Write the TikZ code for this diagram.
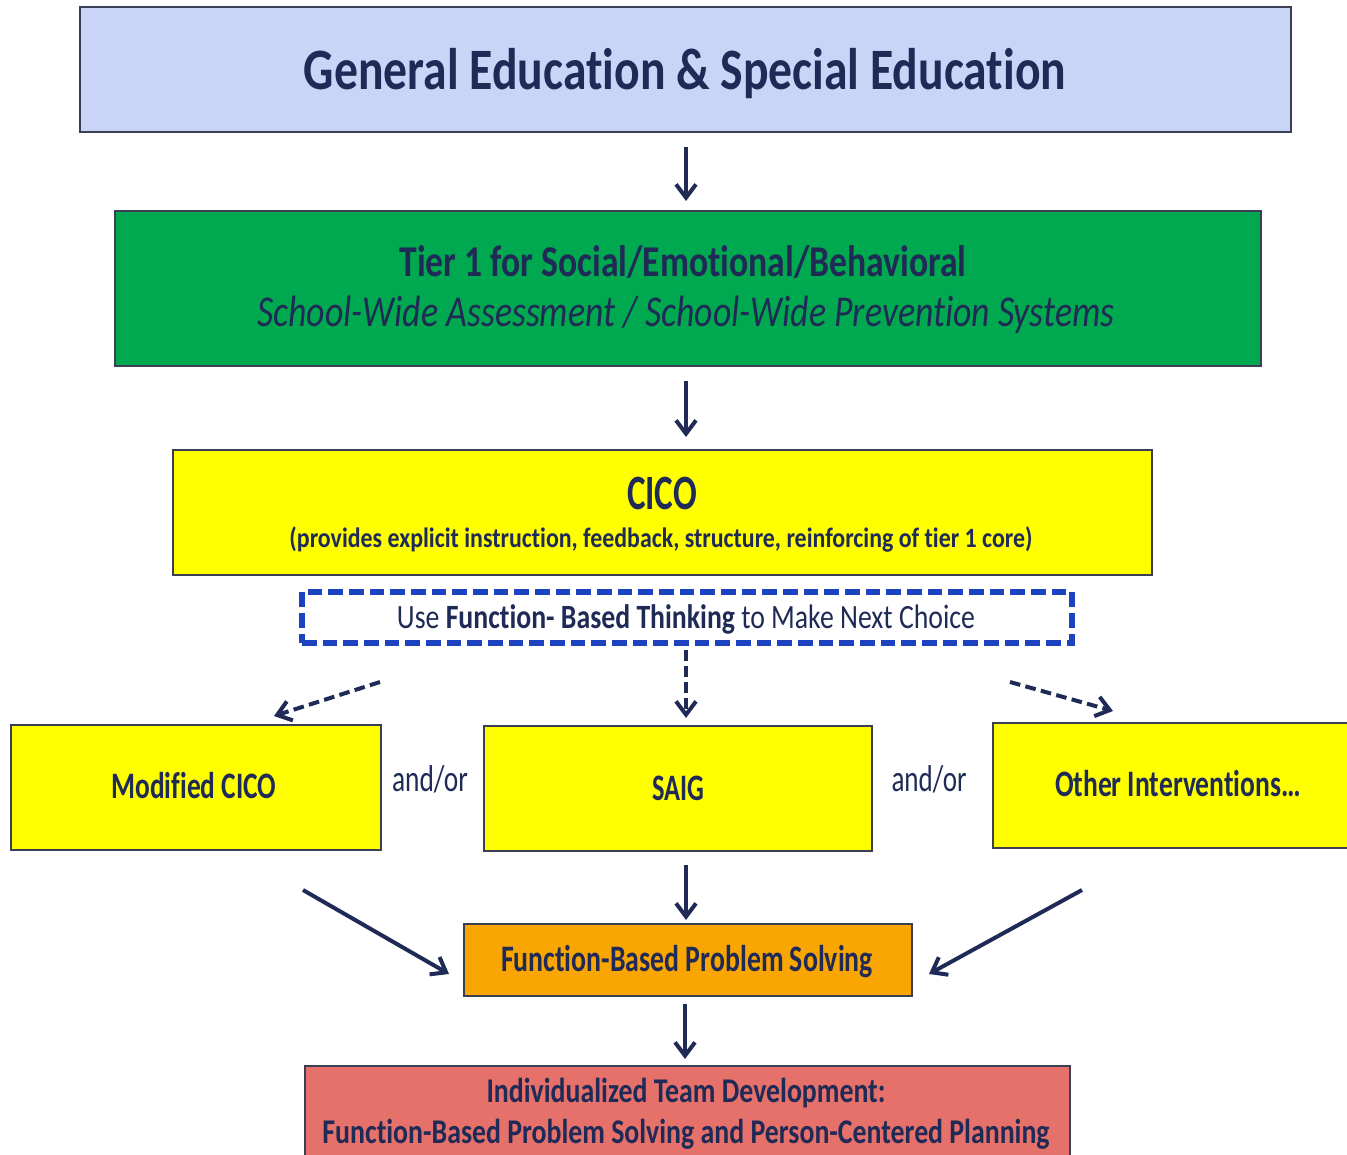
\documentclass[tikz,border=0pt]{standalone}
\usepackage{fontspec}
\setmainfont{Carlito}[Ligatures=NoCommon]
\usetikzlibrary{arrows.meta,fit}
\definecolor{ink}{HTML}{1F2A56}
\definecolor{edge}{HTML}{3A3F55}
\definecolor{topblue}{HTML}{C9D5F6}
\definecolor{tiergreen}{HTML}{00A84F}
\definecolor{ciyellow}{HTML}{FFFF00}
\definecolor{fborange}{HTML}{F9A602}
\definecolor{itdred}{HTML}{E6706A}
\definecolor{dashblue}{HTML}{1C42C0}
\newcommand{\fitw}[2]{\resizebox{#1}{\height}{#2}}
\begin{document}
\begin{tikzpicture}[x=0.75pt,y=-0.75pt,
  box/.style={draw=edge,line width=1.1pt,inner sep=0pt},
  txt/.style={inner sep=0pt,anchor=base,text=ink},
  arr/.style={draw=ink,line width=3pt,-{Straight Barb[length=10pt,width=15pt,line width=3pt]}},
  darr/.style={arr,dash pattern=on 8pt off 4pt}
]
\useasboundingbox (0,0) rectangle (1347,1155);
\clip (0,0) rectangle (1347,1155);

% boxes
\node[box,fill=topblue,fit={(80,7) (1291,132)}] (gen) {};
\node[box,fill=tiergreen,fit={(115,211) (1261,366)}] (tier) {};
\node[box,fill=ciyellow,fit={(173,450) (1152,575)}] (cico) {};
\node[draw=dashblue,line width=4.2pt,dash pattern=on 11pt off 4.5pt,inner sep=0pt,fit={(302,592) (1072,643)}] (fbt) {};
\node[box,fill=ciyellow,fit={(11,725) (381,850)}] (mod) {};
\node[box,fill=ciyellow,fit={(484,726) (872,851)}] (saig) {};
\node[box,fill=ciyellow,fit={(993,723) (1363,848)}] (other) {};
\node[box,fill=fborange,fit={(464,924) (912,996)}] (fbps) {};
\node[box,fill=itdred,fit={(305,1066) (1070,1160)}] (itd) {};

% texts
\node[txt] (tgen) at (685,90) {\fitw{571.5pt}{\fontsize{44}{50}\selectfont\bfseries General Education \& Special Education}};
\node[txt] (ttier1) at (683,277) {\fitw{425.25pt}{\fontsize{33}{38}\selectfont\bfseries Tier 1 for Social/Emotional/Behavioral}};
\node[txt] (ttier2) at (686,327) {\fitw{642.75pt}{\fontsize{33}{38}\selectfont\itshape School-Wide Assessment / School-Wide Prevention Systems}};
\node[txt] (tcico) at (662,510) {\fitw{52.5pt}{\fontsize{37}{42}\selectfont\bfseries CICO}};
\node[txt] (tcico2) at (661,548) {\fitw{557.25pt}{\fontsize{21}{25}\selectfont\bfseries (provides explicit instruction, feedback, structure, reinforcing of tier 1 core)}};
\node[txt] (tfbt) at (686,629) {\fitw{433.5pt}{\fontsize{25.5}{30}\selectfont Use \textbf{Function- Based Thinking} to Make Next Choice}};
\node[txt] (tmod) at (194,798) {\fitw{123.75pt}{\fontsize{28}{32}\selectfont\bfseries Modified CICO}};
\node[txt] (andor1) at (430,791) {\fitw{57pt}{\fontsize{28}{32}\selectfont and/or}};
\node[txt] (tsaig) at (678,800) {\fitw{39pt}{\fontsize{28}{32}\selectfont\bfseries SAIG}};
\node[txt] (andor2) at (929,791) {\fitw{56.25pt}{\fontsize{28}{32}\selectfont and/or}};
\node[txt] (tother) at (1178,796) {\fitw{184.5pt}{\fontsize{28}{32}\selectfont\bfseries Other Interventions…}};
\node[txt] (tfbps) at (687,971) {\fitw{279pt}{\fontsize{28}{32}\selectfont\bfseries Function-Based Problem Solving}};
\node[txt] (titd1) at (686,1102) {\fitw{299.25pt}{\fontsize{26}{30}\selectfont\bfseries Individualized Team Development:}};
\node[txt] (titd2) at (686,1143) {\fitw{545.25pt}{\fontsize{26}{30}\selectfont\bfseries Function-Based Problem Solving and Person-Centered Planning}};

% connectors
\coordinate (a1s) at (686,147); \coordinate (a1e) at (686,201);
\draw[arr] (a1s) -- (a1e);
\coordinate (a2s) at (686,381); \coordinate (a2e) at (686,437);
\draw[arr] (a2s) -- (a2e);
\coordinate (d1s) at (380,682); \coordinate (d1e) at (274,716);
\draw[darr] (d1s) -- (d1e);
\coordinate (d2s) at (686,650); \coordinate (d2e) at (686,718);
\draw[darr] (d2s) -- (d2e);
\coordinate (d3s) at (1010,682); \coordinate (d3e) at (1113,711);
\draw[darr] (d3s) -- (d3e);
\coordinate (a3s) at (686,865); \coordinate (a3e) at (686,920);
\draw[arr] (a3s) -- (a3e);
\coordinate (a4s) at (303,890); \coordinate (a4e) at (449,974);
\draw[arr] (a4s) -- (a4e);
\coordinate (a5s) at (1082,890); \coordinate (a5e) at (929,974);
\draw[arr] (a5s) -- (a5e);
\coordinate (a6s) at (685,1004); \coordinate (a6e) at (685,1059);
\draw[arr] (a6s) -- (a6e);
\end{tikzpicture}
\end{document}
